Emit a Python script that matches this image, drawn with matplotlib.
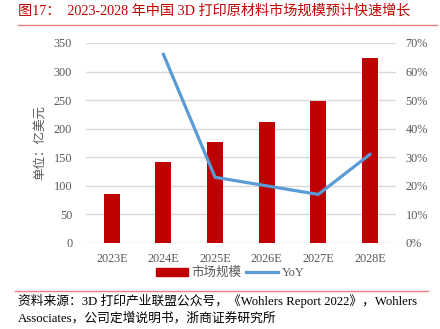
import numpy as np
import matplotlib
matplotlib.use('Agg')
import matplotlib.pyplot as plt
from matplotlib.patches import Patch
from matplotlib.lines import Line2D

plt.rcParams['font.family'] = ['Liberation Serif', 'Noto Sans CJK SC']

'''Data'''
years = ['2023E', '2024E', '2025E', '2026E', '2027E', '2028E']
market = [85, 142, 176, 211, 248, 324]          # 亿美元
yoy = [np.nan, 66, 23, 20, 17, 31]             # %
left_ticks = [0, 50, 100, 150, 200, 250, 300, 350]
right_ticks = [0, 10, 20, 30, 40, 50, 60, 70]

red = '#C00000'
blue = '#5B9BD5'
gray = '#595959'

'''Plot'''
fig = plt.figure(figsize=(4.4, 3.29), dpi=100)
ax = fig.add_axes([0.1955, 0.2614, 0.7038, 0.608])
x = np.arange(len(years))

ax.bar(x, market, width=0.31, color=red, zorder=2)
ax.set_xlim(-0.5, 5.5)
ax.set_ylim(0, 350)
ax.set_yticks(left_ticks)
ax.set_xticks(x)
ax.set_xticklabels(years)
ax.grid(axis='y', color='#D9D9D9', linewidth=1, zorder=0)
ax.set_axisbelow(True)
ax.tick_params(axis='both', length=0, labelsize=8.8, labelcolor=gray)
ax.tick_params(axis='y', pad=10)
ax.tick_params(axis='x', pad=7)
for s in ax.spines.values():
    s.set_visible(False)
ax.set_ylabel('单位：亿美元', color=gray, fontsize=9)
ax.yaxis.label.set_va('center')
ax.yaxis.set_label_coords((40 - 86) / 309.7, 0.5)

ax2 = ax.twinx()
ax2.plot(x, yoy, color=blue, linewidth=2.3, zorder=3)
ax2.set_ylim(0, 70)
ax2.set_yticks(right_ticks)
ax2.set_yticklabels([f'{t}%' for t in right_ticks])
ax2.tick_params(axis='y', length=0, labelsize=8.8, labelcolor=gray, pad=7)
for s in ax2.spines.values():
    s.set_visible(False)

handles = [Patch(color=red), Line2D([], [], color=blue, linewidth=2.3)]
fig.legend(handles, ['市场规模', 'YoY'], loc='center', ncol=2,
           bbox_to_anchor=(230 / 440, 1 - 273 / 329), frameon=False,
           fontsize=9, handlelength=2.6, handleheight=0.6,
           columnspacing=0.3, handletextpad=0.3, labelcolor=gray)

# title and source
fig.text(18 / 440, 1 - 11 / 329, '图17：  2023-2028 年中国 3D 打印原材料市场规模预计快速增长',
         color=red, fontsize=10.2, va='center', ha='left')
fig.add_artist(Line2D([18 / 440, 437 / 440], [1 - 25 / 329] * 2, color='#E88080', linewidth=1.0))
fig.add_artist(Line2D([15 / 440, 428 / 440], [1 - 291 / 329] * 2, color='#E88080', linewidth=1.0))
fig.text(18 / 440, 1 - 301 / 329,
         '资料来源：3D 打印产业联盟公众号，《Wohlers Report 2022》，Wohlers',
         color='black', fontsize=9.2, va='center', ha='left')
fig.text(18 / 440, 1 - 318 / 329,
         'Associates，公司定增说明书，浙商证券研究所',
         color='black', fontsize=9.2, va='center', ha='left')

plt.savefig('out.png', dpi=100)
